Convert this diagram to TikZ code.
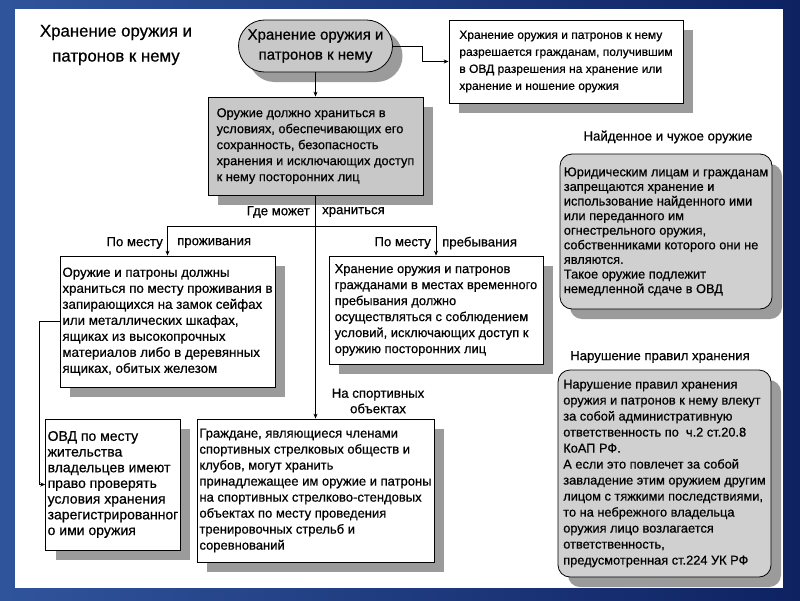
\documentclass[tikz,border=0pt]{standalone}
\usepackage{fontspec}
\setmainfont{Liberation Sans}[FakeBold=0.6]
\usetikzlibrary{arrows.meta, positioning, shadows}
\definecolor{blueLight}{RGB}{48, 84, 156}
\definecolor{blueDark}{RGB}{14, 34, 98}
\definecolor{grayBox}{RGB}{200, 200, 200}
\definecolor{grayRound}{RGB}{208, 208, 208}
\definecolor{grayShadow}{RGB}{155, 155, 155}

\begin{document}
\begin{tikzpicture}[x=1pt, y=-1pt,
  blk/.style={rectangle, draw=black, fill=white, line width=0.8pt,
    inner xsep=2pt, inner ysep=3pt, align=left, font=\fontsize{13}{16}\selectfont,
    general shadow={fill=grayShadow, shadow xshift=10pt, shadow yshift=-10pt}},
  gblk/.style={blk, fill=grayBox},
  rblk/.style={blk, fill=grayRound, rounded corners=12pt},
  arr/.style={-{Stealth[length=5pt, width=4pt]}, line width=0.8pt},
  lbl/.style={font=\fontsize{13.2}{15.5}\selectfont, inner sep=1pt},
]
\useasboundingbox (0,0) rectangle (800,600);
% frame
\shade[left color=blueLight, right color=blueDark] (0,0) rectangle (800,600);
\fill[white] (15,9) rectangle (783,588);

\node[lbl, font=\fontsize{16.8}{25}\selectfont, align=center] (title) at (116,45)
  {Хранение оружия и\\патронов к нему};

% top
\node[gblk, rounded corners=26pt, align=center, inner sep=1pt,
  minimum width=154pt, minimum height=52pt,
  font=\fontsize{15}{20}\selectfont] (cap) at (315.5,46)
  {Хранение оружия и\\патронов к нему};
\node[blk, minimum width=234pt, minimum height=83pt,
  font=\fontsize{12}{17}\selectfont] (perm) at (566,61.5)
  {Хранение оружия и патронов к нему\\разрешается гражданам, получившим\\в ОВД разрешения на хранение или\\хранение и ношение оружия};
\node[gblk, minimum width=215pt, minimum height=98pt,
  font=\fontsize{12.8}{16}\selectfont] (main) at (315.5,146)
  {Оружие должно храниться в\\условиях, обеспечивающих его\\сохранность, безопасность\\хранения и исключающих доступ\\к нему посторонних лиц};

% places
\node[blk, minimum width=215pt, minimum height=131pt,
  font=\fontsize{13.3}{16}\selectfont] (home) at (167.5,321.5)
  {Оружие и патроны должны\\храниться по месту проживания в\\запирающихся на замок сейфах\\или металлических шкафах,\\ящиках из высокопрочных\\материалов либо в деревянных\\ящиках, обитых железом};
\node[blk, minimum width=214pt, minimum height=108pt,
  font=\fontsize{12.9}{16}\selectfont] (stay) at (436,310)
  {Хранение оружия и патронов\\гражданами в местах временного\\пребывания должно\\осуществляться с соблюдением\\условий, исключающих доступ к\\оружию посторонних лиц};
\node[blk, minimum width=134pt, minimum height=131pt,
  font=\fontsize{14}{15.7}\selectfont] (ovd) at (113,484.5)
  {ОВД по месту\\жительства\\владельцев имеют\\право проверять\\условия хранения\\зарегистрированног\\о ими оружия};
\node[blk, minimum width=237pt, minimum height=143pt] (sport) at (315.5,490.5)
  {Граждане, являющиеся членами\\спортивных стрелковых обществ и\\клубов, могут хранить\\принадлежащее им оружие и патроны\\на спортивных стрелково-стендовых\\объектах по месту проведения\\тренировочных стрельб и\\соревнований};

% right column
\node[lbl] (foundhead) at (668,137) {Найденное и чужое оружие};
\node[rblk, minimum width=212pt, minimum height=155pt,
  font=\fontsize{12.8}{14.6}\selectfont] (found) at (666,231.5)
  {Юридическим лицам и гражданам\\запрещаются хранение и\\использование найденного ими\\или переданного им\\огнестрельного оружия,\\собственниками которого они не\\являются.\\Такое оружие подлежит\\немедленной сдаче в ОВД};
\node[lbl] (violhead) at (660,357) {Нарушение правил хранения};
\node[rblk, minimum width=213pt, minimum height=207pt,
  font=\fontsize{12.8}{16}\selectfont] (viol) at (664.5,473.5)
  {Нарушение правил хранения\\оружия и патронов к нему влекут\\за собой административную\\ответственность по \ ч.2 ст.20.8\\КоАП РФ.\\А если это повлечет за собой\\завладение этим оружием другим\\лицом с тяжкими последствиями,\\то на небрежного владельца\\оружия лицо возлагается\\ответственность,\\предусмотренная ст.224 УК РФ};

% labels
\node[lbl, anchor=east] (where1) at (311,212) {Где может};
\node[lbl, anchor=west] (where2) at (321,212) {храниться};
\node[lbl, anchor=east] (home1) at (164,243) {По месту};
\node[lbl, anchor=west] (home2) at (176,243) {проживания};
\node[lbl, anchor=east] (stay1) at (432,243) {По месту};
\node[lbl, anchor=west] (stay2) at (441,243) {пребывания};
\node[lbl, align=center] (sporthead) at (378,401) {На спортивных\\объектах};

% connectors
\coordinate (fork) at (315.5,226);
\draw[arr] (cap.south) -- (main.north);
\draw[arr] (cap.east) -- ++(29,0) |- (perm.west);
\draw[arr] (main.south) -- (sport.north);
\draw[arr] (fork) -| (home.north);
\draw[arr] (fork) -| (stay.north);
\draw[arr] (home.west) -- ++(-20,0) |- (ovd.west);
\end{tikzpicture}
\end{document}
